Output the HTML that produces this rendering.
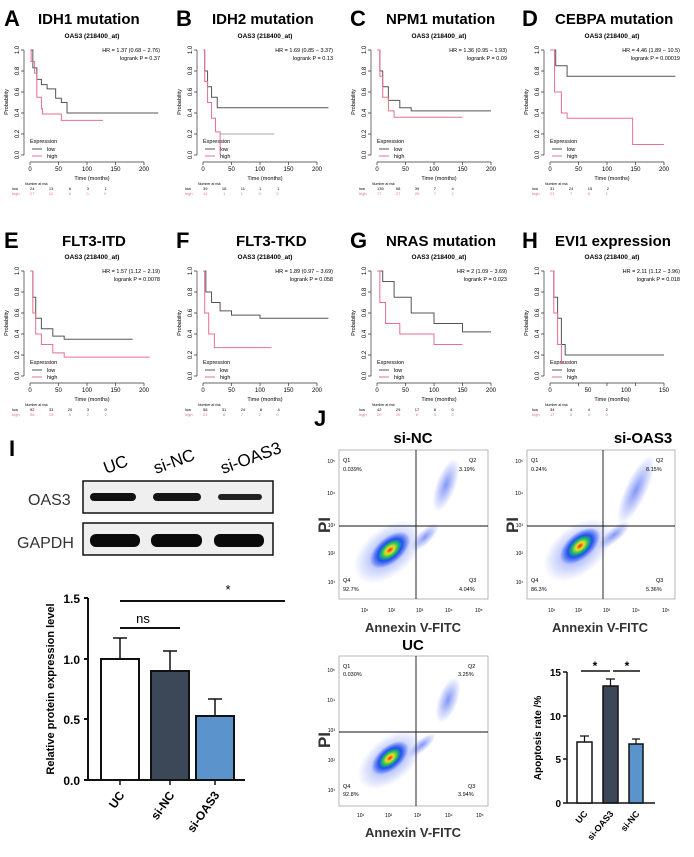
<!DOCTYPE html>
<html><head><meta charset="utf-8"><style>
html,body{margin:0;padding:0;background:#fff;}
svg{display:block;font-family:"Liberation Sans",Arial,sans-serif;}
.L{font-size:22px;font-weight:bold;}
.T{font-size:15px;font-weight:bold;}
.st{font-size:6.5px;font-weight:bold;}
.sm{font-size:5.5px;}
.tk{font-size:6px;}
.lo{stroke:#555;fill:none;stroke-width:1;vector-effect:non-scaling-stroke;}
.hi{stroke:#e8708a;fill:none;stroke-width:1;vector-effect:non-scaling-stroke;}
.ax{stroke:#333;stroke-width:.7;fill:none;}
.bk{font-weight:bold;}
</style></head><body>
<svg width="694" height="857" viewBox="0 0 694 857">
<defs>
<g id="km">
<path class="ax" d="M24 50V155M21 155H24M21 134H24M21 113H24M21 92H24M21 71H24M21 50H24"/>
<path class="ax" d="M30 162H144M30 162V165M58.5 162V165M87 162V165M115.5 162V165M144 162V165"/>
<text class="tk" transform="translate(19 155) rotate(-90)" text-anchor="middle">0.0</text>
<text class="tk" transform="translate(19 134) rotate(-90)" text-anchor="middle">0.2</text>
<text class="tk" transform="translate(19 113) rotate(-90)" text-anchor="middle">0.4</text>
<text class="tk" transform="translate(19 92) rotate(-90)" text-anchor="middle">0.6</text>
<text class="tk" transform="translate(19 71) rotate(-90)" text-anchor="middle">0.8</text>
<text class="tk" transform="translate(19 50) rotate(-90)" text-anchor="middle">1.0</text>
<text class="sm" transform="translate(8 102) rotate(-90)" text-anchor="middle">Probability</text>
<text class="st" x="92" y="38" text-anchor="middle" font-size="6.5">OAS3 (218400_at)</text>
<text class="sm" x="92" y="180" text-anchor="middle">Time (months)</text>
<text class="sm" x="30" y="143">Expression</text>
<path d="M32 149H42" stroke="#555" stroke-width="1"/><text class="sm" x="47" y="151">low</text>
<path d="M32 156H42" stroke="#e8708a" stroke-width="1"/><text class="sm" x="47" y="158">high</text>
<text x="25" y="185" font-size="3.5">Number at risk</text>
</g>
<g id="xt200">
<text class="tk" x="30" y="171" text-anchor="middle">0</text>
<text class="tk" x="58.5" y="171" text-anchor="middle">50</text>
<text class="tk" x="87" y="171" text-anchor="middle">100</text>
<text class="tk" x="115.5" y="171" text-anchor="middle">150</text>
<text class="tk" x="144" y="171" text-anchor="middle">200</text>
</g>
<radialGradient id="dens" cx="50%" cy="50%" r="50%">
<stop offset="0" stop-color="#e82020"/><stop offset=".2" stop-color="#f0e020"/><stop offset=".4" stop-color="#20c060"/><stop offset=".6" stop-color="#2050f0"/><stop offset="1" stop-color="#2050f0" stop-opacity="0"/>
</radialGradient>
<radialGradient id="bl" cx="50%" cy="50%" r="50%">
<stop offset="0" stop-color="#3050f0" stop-opacity=".6"/><stop offset="1" stop-color="#3050f0" stop-opacity="0"/>
</radialGradient>
</defs>

<!-- Row 1 -->
<text class="L" x="4" y="26">A</text><text class="T" x="38" y="24">IDH1 mutation</text>
<text class="L" x="176" y="26">B</text><text class="T" x="212" y="24">IDH2 mutation</text>
<text class="L" x="350" y="26">C</text><text class="T" x="386" y="24">NPM1 mutation</text>
<text class="L" x="522" y="26">D</text><text class="T" x="555" y="24">CEBPA mutation</text>

<g transform="translate(0 0)"><use href="#km"/><use href="#xt200"/>
<text class="sm" x="160" y="52" text-anchor="end">HR = 1.37 (0.68 − 2.76)</text><text class="sm" x="160" y="60" text-anchor="end">logrank P = 0.37</text>
<g transform="translate(30 155) scale(0.57 -105)">
<path class="lo" d="M0 1H5V.83H12V.72H20V.67H30V.63H45V.54H55V.5H65V.4H225"/>
<path class="hi" d="M0 1H2V.89H8V.78H12V.55H20V.44H22V.39H55V.33H128"/></g>
<text x="12" y="190" font-size="4">low</text><text x="30" y="190" font-size="4">24 &#160;&#160;&#160;&#160;&#160;&#160;&#160;&#160;&#160;&#160;&#160;&#160;13 &#160;&#160;&#160;&#160;&#160;&#160;&#160;&#160;&#160;&#160;&#160;&#160;&#160;6 &#160;&#160;&#160;&#160;&#160;&#160;&#160;&#160;&#160;&#160;&#160;&#160;&#160;3 &#160;&#160;&#160;&#160;&#160;&#160;&#160;&#160;&#160;&#160;&#160;&#160;&#160;1</text>
<text x="12" y="195" font-size="4" fill="#e8708a">high</text><text x="30" y="195" font-size="4" fill="#e8708a">27 &#160;&#160;&#160;&#160;&#160;&#160;&#160;&#160;&#160;&#160;&#160;&#160;11 &#160;&#160;&#160;&#160;&#160;&#160;&#160;&#160;&#160;&#160;&#160;&#160;&#160;6 &#160;&#160;&#160;&#160;&#160;&#160;&#160;&#160;&#160;&#160;&#160;&#160;&#160;0 &#160;&#160;&#160;&#160;&#160;&#160;&#160;&#160;&#160;&#160;&#160;&#160;&#160;0</text></g>

<g transform="translate(173 0)"><use href="#km"/><use href="#xt200"/>
<text class="sm" x="160" y="52" text-anchor="end">HR = 1.69 (0.85 − 3.37)</text><text class="sm" x="160" y="60" text-anchor="end">logrank P = 0.13</text>
<g transform="translate(30 155) scale(0.57 -105)">
<path class="lo" d="M0 1H3V.8H8V.65H15V.55H25V.45H220"/>
<path class="hi" d="M0 1H3V.7H8V.5H15V.35H22V.22H30V.0"/>
<path class="lo" d="M30 .2H125" style="stroke:#aaa"/></g>
<text x="12" y="190" font-size="4">low</text><text x="30" y="190" font-size="4">39 &#160;&#160;&#160;&#160;&#160;&#160;&#160;&#160;&#160;&#160;&#160;&#160;16 &#160;&#160;&#160;&#160;&#160;&#160;&#160;&#160;&#160;&#160;&#160;&#160;11 &#160;&#160;&#160;&#160;&#160;&#160;&#160;&#160;&#160;&#160;&#160;&#160;1 &#160;&#160;&#160;&#160;&#160;&#160;&#160;&#160;&#160;&#160;&#160;&#160;&#160;1</text>
<text x="12" y="195" font-size="4" fill="#e8708a">high</text><text x="30" y="195" font-size="4" fill="#e8708a">14 &#160;&#160;&#160;&#160;&#160;&#160;&#160;&#160;&#160;&#160;&#160;&#160;&#160;1 &#160;&#160;&#160;&#160;&#160;&#160;&#160;&#160;&#160;&#160;&#160;&#160;&#160;1 &#160;&#160;&#160;&#160;&#160;&#160;&#160;&#160;&#160;&#160;&#160;&#160;&#160;0 &#160;&#160;&#160;&#160;&#160;&#160;&#160;&#160;&#160;&#160;&#160;&#160;&#160;0</text></g>

<g transform="translate(347 0)"><use href="#km"/><use href="#xt200"/>
<text class="sm" x="160" y="52" text-anchor="end">HR = 1.36 (0.95 − 1.93)</text><text class="sm" x="160" y="60" text-anchor="end">logrank P = 0.09</text>
<g transform="translate(30 155) scale(0.57 -105)">
<path class="lo" d="M0 1H5V.8H10V.65H20V.52H40V.45H60V.42H200"/>
<path class="hi" d="M0 1H5V.75H10V.55H20V.42H30V.36H150"/></g>
<text x="12" y="190" font-size="4">low</text><text x="30" y="190" font-size="4">135 &#160;&#160;&#160;&#160;&#160;&#160;&#160;&#160;&#160;&#160;58 &#160;&#160;&#160;&#160;&#160;&#160;&#160;&#160;&#160;&#160;&#160;&#160;39 &#160;&#160;&#160;&#160;&#160;&#160;&#160;&#160;&#160;&#160;&#160;&#160;7 &#160;&#160;&#160;&#160;&#160;&#160;&#160;&#160;&#160;&#160;&#160;&#160;&#160;4</text>
<text x="12" y="195" font-size="4" fill="#e8708a">high</text><text x="30" y="195" font-size="4" fill="#e8708a">77 &#160;&#160;&#160;&#160;&#160;&#160;&#160;&#160;&#160;&#160;&#160;&#160;27 &#160;&#160;&#160;&#160;&#160;&#160;&#160;&#160;&#160;&#160;&#160;&#160;20 &#160;&#160;&#160;&#160;&#160;&#160;&#160;&#160;&#160;&#160;&#160;&#160;7 &#160;&#160;&#160;&#160;&#160;&#160;&#160;&#160;&#160;&#160;&#160;&#160;&#160;2</text></g>

<g transform="translate(520 0)"><use href="#km"/><use href="#xt200"/>
<text class="sm" x="160" y="52" text-anchor="end">HR = 4.46 (1.89 − 10.5)</text><text class="sm" x="160" y="60" text-anchor="end">logrank P = 0.00019</text>
<g transform="translate(30 155) scale(0.57 -105)">
<path class="lo" d="M0 1H10V.85H30V.75H220"/>
<path class="hi" d="M0 1H8V.6H20V.4H30V.35H145V.1H200"/></g>
<text x="12" y="190" font-size="4">low</text><text x="30" y="190" font-size="4">31 &#160;&#160;&#160;&#160;&#160;&#160;&#160;&#160;&#160;&#160;&#160;&#160;24 &#160;&#160;&#160;&#160;&#160;&#160;&#160;&#160;&#160;&#160;&#160;&#160;15 &#160;&#160;&#160;&#160;&#160;&#160;&#160;&#160;&#160;&#160;&#160;&#160;2</text>
<text x="12" y="195" font-size="4" fill="#e8708a">high</text><text x="30" y="195" font-size="4" fill="#e8708a">21 &#160;&#160;&#160;&#160;&#160;&#160;&#160;&#160;&#160;&#160;&#160;&#160;&#160;7 &#160;&#160;&#160;&#160;&#160;&#160;&#160;&#160;&#160;&#160;&#160;&#160;&#160;6 &#160;&#160;&#160;&#160;&#160;&#160;&#160;&#160;&#160;&#160;&#160;&#160;&#160;1</text></g>

<!-- Row 2 -->
<text class="L" x="4" y="248">E</text><text class="T" x="62" y="246">FLT3-ITD</text>
<text class="L" x="176" y="248">F</text><text class="T" x="236" y="246">FLT3-TKD</text>
<text class="L" x="350" y="248">G</text><text class="T" x="386" y="246">NRAS mutation</text>
<text class="L" x="522" y="248">H</text><text class="T" x="555" y="246">EVI1 expression</text>

<g transform="translate(0 221)"><use href="#km"/><use href="#xt200"/>
<text class="sm" x="160" y="52" text-anchor="end">HR = 1.57 (1.12 − 2.19)</text><text class="sm" x="160" y="60" text-anchor="end">logrank P = 0.0078</text>
<g transform="translate(30 155) scale(0.57 -105)">
<path class="lo" d="M0 1H5V.75H10V.55H20V.45H40V.38H60V.35H180"/>
<path class="hi" d="M0 1H5V.6H10V.4H20V.3H40V.22H60V.18H210"/></g>
<text x="12" y="190" font-size="4">low</text><text x="30" y="190" font-size="4">92 &#160;&#160;&#160;&#160;&#160;&#160;&#160;&#160;&#160;&#160;&#160;&#160;33 &#160;&#160;&#160;&#160;&#160;&#160;&#160;&#160;&#160;&#160;&#160;&#160;20 &#160;&#160;&#160;&#160;&#160;&#160;&#160;&#160;&#160;&#160;&#160;&#160;3 &#160;&#160;&#160;&#160;&#160;&#160;&#160;&#160;&#160;&#160;&#160;&#160;&#160;0</text>
<text x="12" y="195" font-size="4" fill="#e8708a">high</text><text x="30" y="195" font-size="4" fill="#e8708a">96 &#160;&#160;&#160;&#160;&#160;&#160;&#160;&#160;&#160;&#160;&#160;&#160;19 &#160;&#160;&#160;&#160;&#160;&#160;&#160;&#160;&#160;&#160;&#160;&#160;&#160;9 &#160;&#160;&#160;&#160;&#160;&#160;&#160;&#160;&#160;&#160;&#160;&#160;&#160;2 &#160;&#160;&#160;&#160;&#160;&#160;&#160;&#160;&#160;&#160;&#160;&#160;&#160;2</text></g>

<g transform="translate(173 221)"><use href="#km"/><use href="#xt200"/>
<text class="sm" x="160" y="52" text-anchor="end">HR = 1.89 (0.97 − 3.69)</text><text class="sm" x="160" y="60" text-anchor="end">logrank P = 0.058</text>
<g transform="translate(30 155) scale(0.57 -105)">
<path class="lo" d="M0 1H5V.8H15V.7H30V.62H50V.58H100V.55H220"/>
<path class="hi" d="M0 1H3V.6H10V.4H20V.27H120"/></g>
<text x="12" y="190" font-size="4">low</text><text x="30" y="190" font-size="4">58 &#160;&#160;&#160;&#160;&#160;&#160;&#160;&#160;&#160;&#160;&#160;&#160;31 &#160;&#160;&#160;&#160;&#160;&#160;&#160;&#160;&#160;&#160;&#160;&#160;24 &#160;&#160;&#160;&#160;&#160;&#160;&#160;&#160;&#160;&#160;&#160;&#160;8 &#160;&#160;&#160;&#160;&#160;&#160;&#160;&#160;&#160;&#160;&#160;&#160;&#160;4</text>
<text x="12" y="195" font-size="4" fill="#e8708a">high</text><text x="30" y="195" font-size="4" fill="#e8708a">21 &#160;&#160;&#160;&#160;&#160;&#160;&#160;&#160;&#160;&#160;&#160;&#160;&#160;8 &#160;&#160;&#160;&#160;&#160;&#160;&#160;&#160;&#160;&#160;&#160;&#160;&#160;7 &#160;&#160;&#160;&#160;&#160;&#160;&#160;&#160;&#160;&#160;&#160;&#160;&#160;2 &#160;&#160;&#160;&#160;&#160;&#160;&#160;&#160;&#160;&#160;&#160;&#160;&#160;0</text></g>

<g transform="translate(347 221)"><use href="#km"/><use href="#xt200"/>
<text class="sm" x="160" y="52" text-anchor="end">HR = 2 (1.09 − 3.69)</text><text class="sm" x="160" y="60" text-anchor="end">logrank P = 0.023</text>
<g transform="translate(30 155) scale(0.57 -105)">
<path class="lo" d="M0 1H10V.9H30V.75H60V.6H100V.5H150V.42H200"/>
<path class="hi" d="M0 1H5V.7H15V.5H40V.4H100V.3H150"/></g>
<text x="12" y="190" font-size="4">low</text><text x="30" y="190" font-size="4">42 &#160;&#160;&#160;&#160;&#160;&#160;&#160;&#160;&#160;&#160;&#160;&#160;29 &#160;&#160;&#160;&#160;&#160;&#160;&#160;&#160;&#160;&#160;&#160;&#160;17 &#160;&#160;&#160;&#160;&#160;&#160;&#160;&#160;&#160;&#160;&#160;&#160;8 &#160;&#160;&#160;&#160;&#160;&#160;&#160;&#160;&#160;&#160;&#160;&#160;&#160;0</text>
<text x="12" y="195" font-size="4" fill="#e8708a">high</text><text x="30" y="195" font-size="4" fill="#e8708a">20 &#160;&#160;&#160;&#160;&#160;&#160;&#160;&#160;&#160;&#160;&#160;&#160;10 &#160;&#160;&#160;&#160;&#160;&#160;&#160;&#160;&#160;&#160;&#160;&#160;&#160;6 &#160;&#160;&#160;&#160;&#160;&#160;&#160;&#160;&#160;&#160;&#160;&#160;&#160;3 &#160;&#160;&#160;&#160;&#160;&#160;&#160;&#160;&#160;&#160;&#160;&#160;&#160;0</text></g>

<g transform="translate(520 221)"><use href="#km"/>
<text class="tk" x="30" y="171" text-anchor="middle">0</text><text class="tk" x="68" y="171" text-anchor="middle">50</text><text class="tk" x="106" y="171" text-anchor="middle">100</text><text class="tk" x="144" y="171" text-anchor="middle">150</text>
<text class="sm" x="160" y="52" text-anchor="end">HR = 2.11 (1.12 − 3.96)</text><text class="sm" x="160" y="60" text-anchor="end">logrank P = 0.018</text>
<g transform="translate(30 155) scale(0.76 -105)">
<path class="lo" d="M0 1H5V.75H10V.55H15V.3H20V.2H150"/>
<path class="hi" d="M0 1H5V.6H10V.3H15V.12H20"/></g>
<text x="12" y="190" font-size="4">low</text><text x="30" y="190" font-size="4">34 &#160;&#160;&#160;&#160;&#160;&#160;&#160;&#160;&#160;&#160;&#160;&#160;&#160;4 &#160;&#160;&#160;&#160;&#160;&#160;&#160;&#160;&#160;&#160;&#160;&#160;&#160;4 &#160;&#160;&#160;&#160;&#160;&#160;&#160;&#160;&#160;&#160;&#160;&#160;&#160;2</text>
<text x="12" y="195" font-size="4" fill="#e8708a">high</text><text x="30" y="195" font-size="4" fill="#e8708a">17 &#160;&#160;&#160;&#160;&#160;&#160;&#160;&#160;&#160;&#160;&#160;&#160;&#160;0 &#160;&#160;&#160;&#160;&#160;&#160;&#160;&#160;&#160;&#160;&#160;&#160;&#160;0 &#160;&#160;&#160;&#160;&#160;&#160;&#160;&#160;&#160;&#160;&#160;&#160;&#160;0</text></g>

<!-- Panel I -->
<text class="L" x="9" y="456">I</text>
<text transform="translate(106 474) rotate(-20)" font-size="17">UC</text>
<text transform="translate(156 474) rotate(-20)" font-size="17">si-NC</text>
<text transform="translate(223 474) rotate(-20)" font-size="17">si-OAS3</text>
<text x="28" y="505" font-size="16" fill="#333">OAS3</text>
<text x="17" y="548" font-size="16" fill="#333">GAPDH</text>
<rect x="83" y="481" width="190" height="32" fill="#efefef" stroke="#111" stroke-width="1.5"/>
<rect x="83" y="523" width="190" height="32" fill="#efefef" stroke="#111" stroke-width="1.5"/>
<rect x="90" y="493" width="46" height="8" rx="4" fill="#111"/>
<rect x="153" y="493" width="48" height="8" rx="4" fill="#151515"/>
<rect x="218" y="494" width="44" height="6" rx="3" fill="#222"/>
<rect x="90" y="534" width="50" height="13" rx="6" fill="#0a0a0a"/>
<rect x="151" y="534" width="51" height="13" rx="6" fill="#0a0a0a"/>
<rect x="214" y="534" width="50" height="13" rx="6" fill="#0a0a0a"/>

<path d="M88 598V780H245M84 598H88M84 659H88M84 719H88M84 780H88" stroke="#111" stroke-width="2" fill="none"/>
<text x="80" y="603" font-size="12" text-anchor="end" class="bk">1.5</text>
<text x="80" y="664" font-size="12" text-anchor="end" class="bk">1.0</text>
<text x="80" y="724" font-size="12" text-anchor="end" class="bk">0.5</text>
<text x="80" y="785" font-size="12" text-anchor="end" class="bk">0.0</text>
<text transform="translate(54 689) rotate(-90)" font-size="11" text-anchor="middle" class="bk">Relative protein expression level</text>
<path d="M120 659V638M113 638H127M170 671V651M163 651H177M215 716V699M208 699H222" stroke="#111" stroke-width="1.5"/>
<rect x="101" y="659" width="38" height="121" fill="#fff" stroke="#111" stroke-width="2"/>
<rect x="151" y="671" width="38" height="109" fill="#3c4858" stroke="#111" stroke-width="2"/>
<rect x="196" y="716" width="38" height="64" fill="#5b93cc" stroke="#111" stroke-width="2"/>
<path d="M120 780V785M170 780V785M215 780V785" stroke="#111" stroke-width="1.5"/>
<path d="M120 628H180M120 601H285" stroke="#111" stroke-width="2"/>
<text x="143" y="623" font-size="13" text-anchor="middle">ns</text>
<text x="228" y="594" font-size="13" text-anchor="middle">*</text>
<text transform="translate(125 795) rotate(-55)" font-size="12" text-anchor="end" class="bk">UC</text>
<text transform="translate(175 795) rotate(-55)" font-size="12" text-anchor="end" class="bk">si-NC</text>
<text transform="translate(220 795) rotate(-55)" font-size="12" text-anchor="end" class="bk">si-OAS3</text>

<!-- Panel J -->
<text class="L" x="314" y="426">J</text>
<text x="413" y="443" font-size="15" text-anchor="middle" class="bk">si-NC</text>
<text x="643" y="443" font-size="15" text-anchor="middle" class="bk">si-OAS3</text>
<text x="413" y="650" font-size="15" text-anchor="middle" class="bk">UC</text>

<!-- flow 1 -->
<g>
<rect x="339" y="450" width="149" height="149" fill="#fff" stroke="#999" stroke-width=".7"/>
<ellipse cx="388" cy="552" rx="40" ry="24" fill="url(#bl)" transform="rotate(-40 388 552)"/>
<ellipse cx="390" cy="550" rx="24" ry="13" fill="url(#dens)" transform="rotate(-40 390 550)"/>
<ellipse cx="425" cy="537" rx="18" ry="7" fill="url(#bl)" transform="rotate(-45 425 537)"/>
<ellipse cx="446" cy="485" rx="10" ry="28" fill="url(#bl)" transform="rotate(20 446 485)"/>
<path d="M339 526H488M416 450V599" stroke="#111" stroke-width=".9"/>
<text x="343" y="462" font-size="5.5">Q1</text><text x="343" y="471" font-size="5.5">0.039%</text>
<text x="469" y="462" font-size="5.5">Q2</text><text x="459" y="471" font-size="5.5">3.19%</text>
<text x="343" y="582" font-size="5.5">Q4</text><text x="343" y="591" font-size="5.5">92.7%</text>
<text x="469" y="582" font-size="5.5">Q3</text><text x="459" y="591" font-size="5.5">4.04%</text>
<text x="335" y="584" font-size="5" text-anchor="end">10¹</text><text x="335" y="555" font-size="5" text-anchor="end">10²</text><text x="335" y="527" font-size="5" text-anchor="end">10³</text><text x="335" y="495" font-size="5" text-anchor="end">10⁴</text><text x="335" y="463" font-size="5" text-anchor="end">10⁵</text>
<text x="361" y="612" font-size="5">10¹</text><text x="388" y="612" font-size="5">10²</text><text x="416" y="612" font-size="5">10³</text><text x="445" y="612" font-size="5">10⁴</text><text x="475" y="612" font-size="5">10⁵</text>
<text x="413" y="632" font-size="13" text-anchor="middle" class="bk" fill="#333">Annexin V-FITC</text>
<text transform="translate(330 525) rotate(-90)" font-size="17" text-anchor="middle" class="bk" fill="#333">PI</text>
</g>
<!-- flow 2 -->
<g>
<rect x="527" y="450" width="148" height="149" fill="#fff" stroke="#999" stroke-width=".7"/>
<ellipse cx="578" cy="550" rx="40" ry="24" fill="url(#bl)" transform="rotate(-40 578 550)"/>
<ellipse cx="580" cy="546" rx="24" ry="13" fill="url(#dens)" transform="rotate(-40 580 546)"/>
<ellipse cx="614" cy="535" rx="20" ry="7" fill="url(#bl)" transform="rotate(-40 614 535)"/>
<ellipse cx="636" cy="490" rx="11" ry="38" fill="url(#bl)" transform="rotate(25 636 490)"/>
<path d="M527 526H675M603 450V599" stroke="#111" stroke-width=".9"/>
<text x="531" y="462" font-size="5.5">Q1</text><text x="531" y="471" font-size="5.5">0.24%</text>
<text x="656" y="462" font-size="5.5">Q2</text><text x="646" y="471" font-size="5.5">8.15%</text>
<text x="531" y="582" font-size="5.5">Q4</text><text x="531" y="591" font-size="5.5">86.3%</text>
<text x="656" y="582" font-size="5.5">Q3</text><text x="646" y="591" font-size="5.5">5.36%</text>
<text x="523" y="584" font-size="5" text-anchor="end">10¹</text><text x="523" y="555" font-size="5" text-anchor="end">10²</text><text x="523" y="527" font-size="5" text-anchor="end">10³</text><text x="523" y="495" font-size="5" text-anchor="end">10⁴</text><text x="523" y="463" font-size="5" text-anchor="end">10⁵</text>
<text x="548" y="612" font-size="5">10¹</text><text x="575" y="612" font-size="5">10²</text><text x="603" y="612" font-size="5">10³</text><text x="632" y="612" font-size="5">10⁴</text><text x="662" y="612" font-size="5">10⁵</text>
<text x="600" y="632" font-size="13" text-anchor="middle" class="bk" fill="#333">Annexin V-FITC</text>
<text transform="translate(518 525) rotate(-90)" font-size="17" text-anchor="middle" class="bk" fill="#333">PI</text>
</g>
<!-- flow 3 -->
<g>
<rect x="339" y="656" width="149" height="150" fill="#fff" stroke="#999" stroke-width=".7"/>
<ellipse cx="390" cy="760" rx="38" ry="22" fill="url(#bl)" transform="rotate(-40 390 760)"/>
<ellipse cx="390" cy="758" rx="22" ry="12" fill="url(#dens)" transform="rotate(-40 390 758)"/>
<ellipse cx="422" cy="745" rx="17" ry="6" fill="url(#bl)" transform="rotate(-40 422 745)"/>
<ellipse cx="448" cy="700" rx="10" ry="24" fill="url(#bl)" transform="rotate(20 448 700)"/>
<path d="M339 732H488M416 656V806" stroke="#111" stroke-width=".9"/>
<text x="343" y="668" font-size="5.5">Q1</text><text x="343" y="676" font-size="5.5">0.030%</text>
<text x="468" y="668" font-size="5.5">Q2</text><text x="458" y="676" font-size="5.5">3.25%</text>
<text x="343" y="788" font-size="5.5">Q4</text><text x="343" y="796" font-size="5.5">92.8%</text>
<text x="468" y="788" font-size="5.5">Q3</text><text x="458" y="796" font-size="5.5">3.94%</text>
<text x="335" y="792" font-size="5" text-anchor="end">10¹</text><text x="335" y="762" font-size="5" text-anchor="end">10²</text><text x="335" y="732" font-size="5" text-anchor="end">10³</text><text x="335" y="702" font-size="5" text-anchor="end">10⁴</text><text x="335" y="672" font-size="5" text-anchor="end">10⁵</text>
<text x="357" y="817" font-size="5">10¹</text><text x="385" y="817" font-size="5">10²</text><text x="414" y="817" font-size="5">10³</text><text x="445" y="817" font-size="5">10⁴</text><text x="476" y="817" font-size="5">10⁵</text>
<text x="413" y="837" font-size="13" text-anchor="middle" class="bk" fill="#333">Annexin V-FITC</text>
<text transform="translate(330 740) rotate(-90)" font-size="17" text-anchor="middle" class="bk" fill="#333">PI</text>
</g>

<!-- apoptosis chart -->
<path d="M567 672V803H655M563 672H567M563 716H567M563 759H567M563 803H567" stroke="#111" stroke-width="1.5" fill="none"/>
<text x="561" y="676" font-size="10" text-anchor="end" class="bk">15</text>
<text x="561" y="720" font-size="10" text-anchor="end" class="bk">10</text>
<text x="561" y="763" font-size="10" text-anchor="end" class="bk">5</text>
<text x="561" y="807" font-size="10" text-anchor="end" class="bk">0</text>
<text transform="translate(541 738) rotate(-90)" font-size="10" text-anchor="middle" class="bk">Apoptosis rate /%</text>
<path d="M584.5 742V736M580 736H589M610.5 686V679M606 679H615M636 744V739M632 739H640" stroke="#111" stroke-width="1.2"/>
<rect x="577" y="742" width="15" height="61" fill="#fff" stroke="#111" stroke-width="1.5"/>
<rect x="603" y="686" width="15" height="117" fill="#3c4858" stroke="#111" stroke-width="1.5"/>
<rect x="629" y="744" width="14" height="59" fill="#5b93cc" stroke="#111" stroke-width="1.5"/>
<path d="M581 671H610M613 671H640" stroke="#111" stroke-width="1.5"/>
<text x="595" y="670" font-size="12" text-anchor="middle" class="bk">*</text>
<text x="627" y="670" font-size="12" text-anchor="middle" class="bk">*</text>
<text transform="translate(588 814) rotate(-50)" font-size="9" text-anchor="end" class="bk">UC</text>
<text transform="translate(614 814) rotate(-50)" font-size="9" text-anchor="end" class="bk">si-OAS3</text>
<text transform="translate(640 814) rotate(-50)" font-size="9" text-anchor="end" class="bk">si-NC</text>
</svg>
</body></html>
